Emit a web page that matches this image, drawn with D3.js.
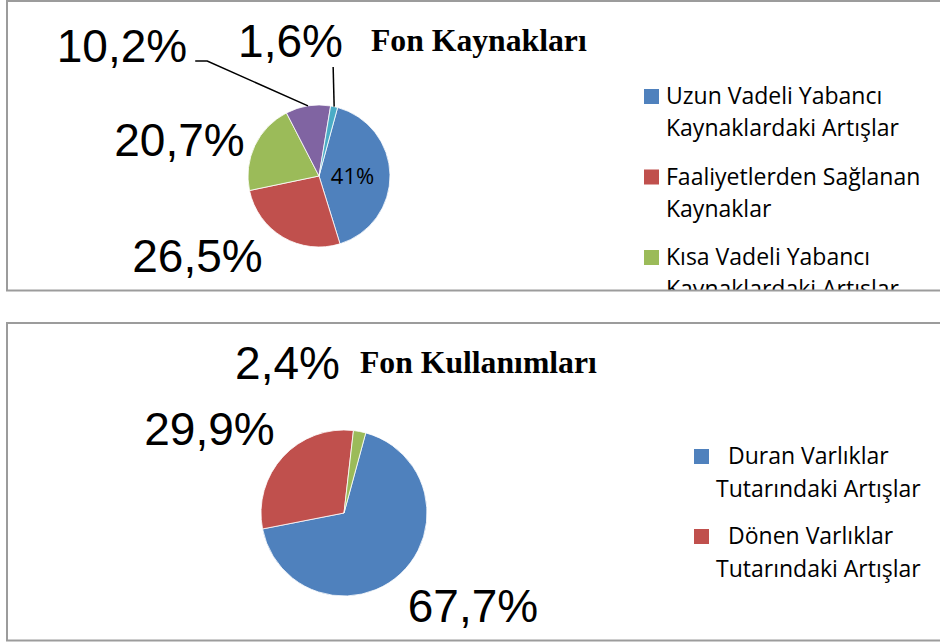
<!DOCTYPE html>
<html>
<head>
<meta charset="utf-8">
<script src="https://cdn.jsdelivr.net/npm/d3@7"></script>
<style>
  html, body { margin: 0; padding: 0; background: #ffffff; }
  svg { display: block; }
</style>
</head>
<body>
<svg id="chart" width="940" height="642"></svg>
<script>
// ---------------- DATA ----------------
const sourceTitle = "Fon Kaynakları";
const sourceCategories = [
  "Uzun Vadeli Yabancı Kaynaklardaki Artışlar",
  "Faaliyetlerden Sağlanan Kaynaklar",
  "Kısa Vadeli Yabancı Kaynaklardaki Artışlar",
  "Özkaynaklardaki Artışlar",
  "Diğer Kaynaklar"
];
const sourceValues = [41, 26.5, 20.7, 10.2, 1.6];
const sourceLabels = ["41%", "26,5%", "20,7%", "10,2%", "1,6%"];

const useTitle = "Fon Kullanımları";
const useCategories = [
  "Duran Varlıklar Tutarındaki Artışlar",
  "Dönen Varlıklar Tutarındaki Artışlar",
  "Diğer"
];
const useValues = [67.7, 29.9, 2.4];
const useLabels = ["67,7%", "29,9%", "2,4%"];

// ---------------- STYLE / LAYOUT ----------------
const palette = ["#4F81BD", "#C0504D", "#9BBB59", "#8064A2", "#4BACC6"];
const bigFont = "'Liberation Sans', Arial, sans-serif";
const legendFont = "'Open Sans', 'Noto Sans', sans-serif";
const titleFont = "'Liberation Serif', 'Times New Roman', serif";
const startDeg = 15.2;

const svg = d3.select("#chart");

function drawPanel(cfg) {
  const g = svg.append("g");
  const clipId = "clip-" + cfg.id;
  svg.append("defs").append("clipPath").attr("id", clipId)
    .append("rect").attr("x", cfg.box.x).attr("y", cfg.box.y)
    .attr("width", cfg.box.w).attr("height", cfg.box.h);

  const content = g.append("g").attr("clip-path", `url(#${clipId})`);

  const color = d3.scaleOrdinal().domain(cfg.categories).range(palette);
  const pie = d3.pie().sort(null).value(d => d.value)
    .startAngle(startDeg * Math.PI / 180)
    .endAngle(startDeg * Math.PI / 180 + 2 * Math.PI);
  const data = cfg.categories.map((c, i) => ({ cat: c, value: cfg.values[i], label: cfg.labels[i] }));
  const arcs = pie(data);
  const arc = d3.arc().innerRadius(0).outerRadius(cfg.r);

  const pg = content.append("g").attr("transform", `translate(${cfg.cx},${cfg.cy})`);
  pg.selectAll("path.slice").data(arcs).join("path")
    .attr("class", "slice")
    .attr("d", arc)
    .attr("fill", d => color(d.data.cat))
    .attr("stroke", "#ffffff")
    .attr("stroke-width", 0.8);

  // labels
  arcs.forEach((a, i) => {
    const lay = cfg.labelLayout[i];
    const mid = (a.startAngle + a.endAngle) / 2;
    const edge = [Math.sin(mid) * cfg.r, -Math.cos(mid) * cfg.r];
    let lx, ly;
    if (lay.inside) {
      const c = arc.centroid(a);
      lx = c[0] + lay.dx; ly = c[1] + lay.dy;
    } else {
      lx = lay.dx; ly = lay.dy;
    }
    const t = pg.append("text")
      .attr("x", lx).attr("y", ly)
      .attr("text-anchor", "middle")
      .attr("font-family", lay.inside ? legendFont : bigFont)
      .attr("font-size", lay.inside ? 22 : 46)
      .attr("fill", "#000")
      .text(a.data.label);
    if (lay.leader === "elbow") {
      const w = t.node().getComputedTextLength();
      const sx = lx + w / 2 + 8, sy = ly - 1;
      pg.append("polyline")
        .attr("points", [[sx, sy], [sx + 12, sy], edge].map(p => p.join(",")).join(" "))
        .attr("fill", "none").attr("stroke", "#000").attr("stroke-width", 1.5);
    } else if (lay.leader === "vertical") {
      pg.append("line")
        .attr("x1", edge[0] - 1).attr("y1", ly + 10)
        .attr("x2", edge[0]).attr("y2", edge[1])
        .attr("stroke", "#000").attr("stroke-width", 1.5);
    }
  });

  // title
  content.append("text")
    .attr("x", cfg.titleX).attr("y", cfg.titleY)
    .attr("font-family", titleFont).attr("font-weight", "bold")
    .attr("font-size", 31.7).attr("fill", "#000")
    .text(cfg.title);

  // legend
  const lg = content.append("g");
  cfg.legendItems.forEach((idx, k) => {
    const cat = cfg.categories[idx];
    const y0 = cfg.legend.y + k * cfg.legend.pitch;
    lg.append("rect")
      .attr("x", cfg.legend.sx).attr("y", y0 - 15)
      .attr("width", 15).attr("height", 15)
      .attr("fill", color(cat));
    // wrap words
    const words = cat.split(" ");
    const lines = [];
    let cur = "";
    const probe = lg.append("text").attr("font-family", legendFont).attr("font-size", 23);
    words.forEach(w => {
      const test = cur ? cur + " " + w : w;
      probe.text(test);
      const limit = cfg.legend.maxW - (lines.length === 0 ? cfg.legend.firstIndent : 0);
      if (probe.node().getComputedTextLength() > limit && cur) {
        lines.push(cur); cur = w;
      } else cur = test;
    });
    lines.push(cur);
    probe.remove();
    lines.forEach((ln, j) => {
      lg.append("text")
        .attr("x", cfg.legend.tx + (j === 0 ? cfg.legend.firstIndent : 0))
        .attr("y", y0 + j * cfg.legend.lineH)
        .attr("font-family", legendFont).attr("font-size", 23)
        .attr("fill", "#000")
        .text(ln);
    });
  });

  // frame
  g.append("rect")
    .attr("x", cfg.box.x).attr("y", cfg.box.y)
    .attr("width", cfg.box.w).attr("height", cfg.box.h)
    .attr("fill", "none").attr("stroke", "#9c9c9c").attr("stroke-width", 2);
}

drawPanel({
  id: "sources",
  box: { x: 7, y: 1, w: 1000, h: 289.5 },
  cx: 319, cy: 176, r: 71,
  categories: sourceCategories, values: sourceValues, labels: sourceLabels,
  labelLayout: [
    { inside: true, dx: -2, dy: 9 },
    { dx: -121.5, dy: 96 },
    { dx: -139.5, dy: -20 },
    { dx: -197, dy: -114, leader: "elbow" },
    { dx: -28.5, dy: -119, leader: "vertical" }
  ],
  title: sourceTitle, titleX: 371, titleY: 51,
  legendItems: [0, 1, 2, 3, 4],
  legend: { sx: 644, tx: 666, y: 104, pitch: 80.5, lineH: 32, maxW: 262, firstIndent: 0 }
});

drawPanel({
  id: "uses",
  box: { x: 7, y: 323, w: 1000, h: 317.5 },
  cx: 344, cy: 513, r: 83,
  categories: useCategories, values: useValues, labels: useLabels,
  labelLayout: [
    { dx: 129, dy: 109 },
    { dx: -134.5, dy: -68 },
    { dx: -56.5, dy: -134 }
  ],
  title: useTitle, titleX: 360, titleY: 373,
  legendItems: [0, 1],
  legend: { sx: 694, tx: 716, y: 464, pitch: 80, lineH: 33, maxW: 222, firstIndent: 12 }
});
</script>
</body>
</html>
